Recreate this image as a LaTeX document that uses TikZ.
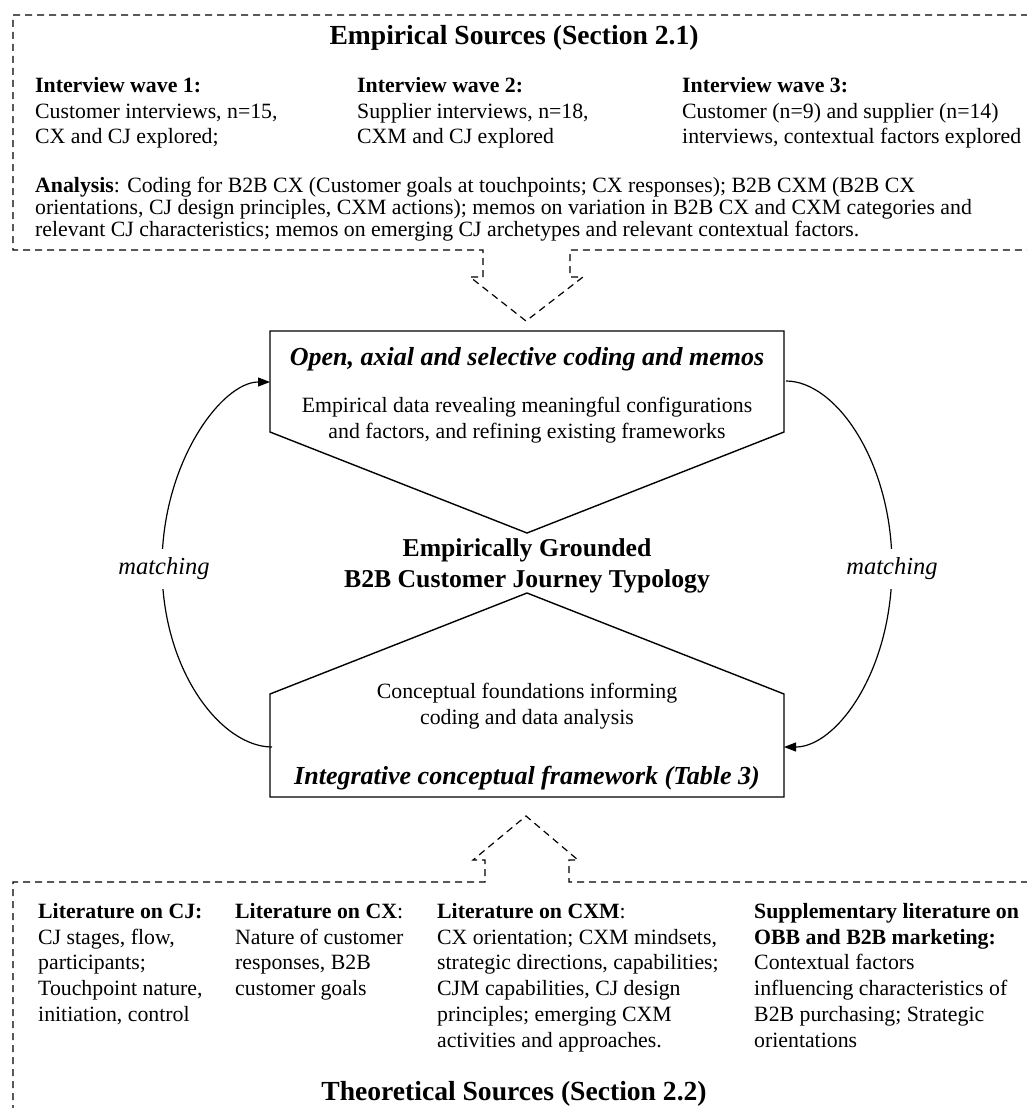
\documentclass[tikz,border=0pt]{standalone}
\usepackage{fontspec}
\setmainfont{Liberation Serif}
\usetikzlibrary{arrows.meta}
\begin{document}
\begin{tikzpicture}[x=1pt,y=-1pt,
  dashbox/.style={line width=1.2pt, dash pattern=on 7pt off 5pt},
  pent/.style={line width=1.4pt, line join=miter},
  conn/.style={line width=1.2pt, -{Triangle[length=12pt,width=9pt]}},
  body/.style={font=\fontsize{21.8}{25.8}\selectfont, align=left, anchor=north west, inner sep=0pt},
  para/.style={font=\fontsize{21.8}{22}\selectfont, align=left, anchor=north west, inner sep=0pt},
  ctext/.style={font=\fontsize{21.8}{26}\selectfont, align=center, anchor=north, inner sep=0pt},
  secttitle/.style={font=\fontsize{27.6}{32}\selectfont\bfseries, inner sep=0pt},
  boxtitle/.style={font=\fontsize{26}{30}\selectfont\bfseries\itshape, inner sep=0pt},
  typology/.style={font=\fontsize{25.7}{31}\selectfont\bfseries, align=center, anchor=north, inner sep=0pt},
  matchlbl/.style={font=\fontsize{24.5}{28}\selectfont\itshape, fill=white, inner xsep=2pt, inner ysep=9pt}
]
\useasboundingbox (0,0) rectangle (1027,1108);
\clip (0,0) rectangle (1027,1108);

% ---------- Empirical sources (top dashed box with dashed arrow) ----------
\draw[dashbox] (1040,15) -- (13,15) -- (13,250) -- (483,250) -- (483,277) -- (470,277)
   -- (526,321) -- (583,277) -- (570,277) -- (570,250) -- (1040,250);

\node[secttitle] (emptitle) at (514,38) {Empirical Sources (Section 2.1)};
\node[body] (wave1) at (35,77) {\textbf{Interview wave 1:}\\Customer interviews, n=15,\\CX and CJ explored;};
\node[body] (wave2) at (357,77) {\textbf{Interview wave 2:}\\Supplier interviews, n=18,\\CXM and CJ explored};
\node[body] (wave3) at (682,77) {\textbf{Interview wave 3:}\\Customer (n=9) and supplier (n=14)\\interviews, contextual factors explored};
\node[para] (analysis) at (35,177) {\textbf{Analysis}: Coding for B2B CX (Customer goals at touchpoints; CX responses); B2B CXM (B2B CX\\orientations, CJ design principles, CXM actions); memos on variation in B2B CX and CXM categories and\\relevant CJ characteristics; memos on emerging CJ archetypes and relevant contextual factors.};

% ---------- Upper pentagon ----------
\draw[pent] (270,331) -- (784,331) -- (784,432) -- (527,533) -- (270,432) -- cycle;
\node[boxtitle] (opentitle) at (527,359) {Open, axial and selective coding and memos};
\node[ctext] (opentext) at (527,397) {Empirical data revealing meaningful configurations\\and factors, and refining existing frameworks};

% ---------- Centre ----------
\node[typology] (typo) at (527,538) {Empirically Grounded\\B2B Customer Journey Typology};

% ---------- Lower pentagon ----------
\draw[pent] (527,593) -- (784,694) -- (784,797) -- (270,797) -- (270,694) -- cycle;
\node[ctext] (conctext) at (527,683) {Conceptual foundations informing\\coding and data analysis};
\node[boxtitle] (conctitle) at (527,778) {Integrative conceptual framework (Table 3)};

% ---------- matching connectors ----------
\coordinate (ul) at (270,382);
\coordinate (ur) at (786,381);
\coordinate (ll) at (272,747);
\coordinate (lr) at (784,747);
\coordinate (mL) at (162,566);
\coordinate (mR) at (892,566);
\draw[conn] (ll) .. controls (222,747) and (162,672) .. (mL) .. controls (162,462) and (222,382) .. (ul);
\draw[conn] (ur) .. controls (836,381) and (892,462) .. (mR) .. controls (892,672) and (836,747) .. (lr);
\node[matchlbl] (matchL) at (164,569) {matching};
\node[matchlbl] (matchR) at (892,569) {matching};

% ---------- Theoretical sources (bottom dashed box with dashed arrow) ----------
\draw[dashbox] (1040,882) -- (569,882) -- (569,860) -- (578,860) -- (526,816) -- (473,860)
   -- (485,860) -- (485,882) -- (13,882) -- (13,1115);

\node[body] (litcj) at (38,903) {\textbf{Literature on CJ:}\\CJ stages, flow,\\participants;\\Touchpoint nature,\\initiation, control};
\node[body] (litcx) at (235,903) {\textbf{Literature on CX}:\\Nature of customer\\responses, B2B\\customer goals};
\node[body] (litcxm) at (437,903) {\textbf{Literature on CXM}:\\CX orientation; CXM mindsets,\\strategic directions, capabilities;\\CJM capabilities, CJ design\\principles; emerging CXM\\activities and approaches.};
\node[body] (litsup) at (754,903) {\textbf{Supplementary literature on}\\\textbf{OBB and B2B marketing:}\\Contextual factors\\influencing characteristics of\\B2B purchasing; Strategic\\orientations};
\node[secttitle] (theotitle) at (514,1094) {Theoretical Sources (Section 2.2)};
\end{tikzpicture}
\end{document}
